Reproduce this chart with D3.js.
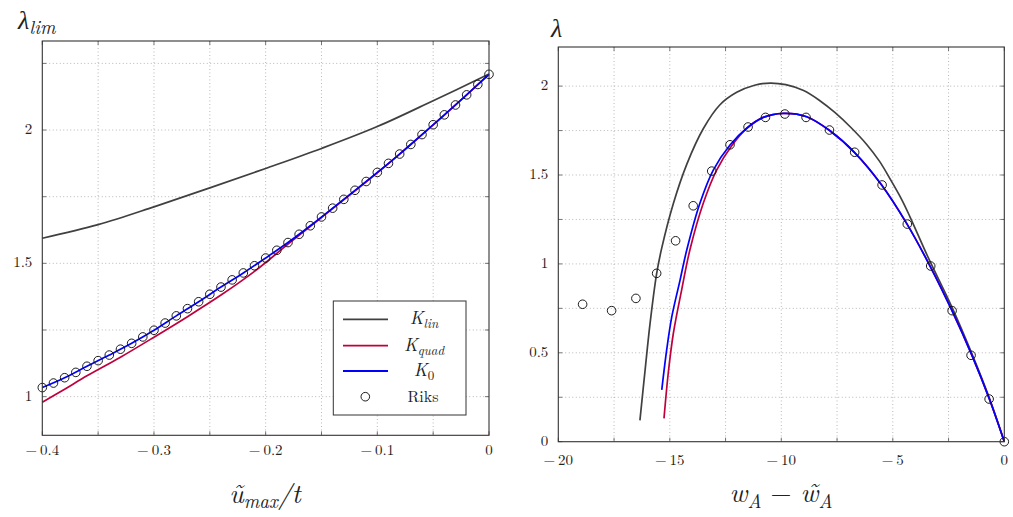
<!DOCTYPE html>
<html><head><meta charset="utf-8">
<script src="https://cdn.jsdelivr.net/npm/d3@7"></script>
<style>
body{margin:0;background:#fff;}
svg{display:block;}
text{font-family:"Latin Modern Roman","Liberation Serif","DejaVu Serif",serif;fill:#222;}
</style></head><body>
<svg id="c" width="1013" height="517"></svg>
<script>
// ---------- Left panel data ----------
const leftKlinX = [-0.4,-0.35,-0.3,-0.25,-0.2,-0.15,-0.1,-0.05,0];
const leftKlinY = [1.594,1.645,1.712,1.783,1.856,1.931,2.013,2.11,2.21];
const leftKquadX = [-0.4,-0.38,-0.36,-0.33,-0.3,-0.27,-0.24,-0.21,-0.18,-0.15,-0.1,-0.05,0];
const leftKquadY = [0.979,1.028,1.078,1.148,1.223,1.300,1.381,1.470,1.572,1.672,1.839,2.019,2.209];
const leftK0X = [-0.4,-0.38,-0.36,-0.34,-0.32,-0.3,-0.28,-0.26,-0.24,-0.22,-0.2,-0.18,-0.16,-0.14,-0.12,-0.1,-0.08,-0.06,-0.04,-0.02,0];
const leftK0Y = [1.034,1.071,1.114,1.156,1.200,1.249,1.303,1.356,1.411,1.464,1.520,1.578,1.641,1.707,1.774,1.841,1.910,1.983,2.057,2.132,2.209];
const leftRiksX = [-0.4,-0.39,-0.38,-0.37,-0.36,-0.35,-0.34,-0.33,-0.32,-0.31,-0.3,-0.29,-0.28,-0.27,-0.26,-0.25,-0.24,-0.23,-0.22,-0.21,-0.2,-0.19,-0.18,-0.17,-0.16,-0.15,-0.14,-0.13,-0.12,-0.11,-0.1,-0.09,-0.08,-0.07,-0.06,-0.05,-0.04,-0.03,-0.02,-0.01,0];
const leftRiksY = [1.034,1.051,1.071,1.091,1.114,1.135,1.156,1.178,1.200,1.224,1.249,1.276,1.303,1.330,1.356,1.384,1.411,1.438,1.464,1.491,1.520,1.549,1.578,1.609,1.641,1.674,1.707,1.740,1.774,1.807,1.841,1.875,1.910,1.946,1.983,2.020,2.057,2.094,2.132,2.171,2.209];
const leftXTicks = [-0.4,-0.3,-0.2,-0.1,0];
const leftXTickLabels = ["−\u20090.4","−\u20090.3","−\u20090.2","−\u20090.1","0"];
const leftXGrid = [-0.35,-0.3,-0.25,-0.2,-0.15,-0.1,-0.05];
const leftYTicks = [1,1.5,2];
const leftYTickLabels = ["1","1.5","2"];
const leftYGrid = [1,1.25,1.5,1.75,2,2.25];

// ---------- Right panel data ----------
const rightKlinX = [-16.34,-16.11,-15.89,-15.59,-15.36,-14.84,-14.24,-13.5,-12.75,-12.0,-11.2,-10.5,-9.8,-9.0,-8.27,-7.6,-6.9,-6.17,-5.6,-5.13,-4.6,-4.23,-3.41,-2.36,-1.46,-0.67,0];
const rightKlinY = [0.12,0.40,0.66,0.945,1.09,1.34,1.56,1.76,1.895,1.965,2.005,2.017,2.008,1.975,1.918,1.852,1.77,1.672,1.578,1.48,1.362,1.265,1.035,0.76,0.497,0.245,0];
const rightKquadX = [-15.26,-15.07,-14.84,-14.47,-14.1,-13.5,-12.9,-12.2,-11.55,-10.81,-9.91,-8.86,-7.82,-6.7,-5.5,-4.38,-3.33,-2.36,-1.46,-0.67,0];
const rightKquadY = [0.131,0.385,0.61,0.853,1.078,1.341,1.528,1.669,1.763,1.824,1.847,1.828,1.749,1.625,1.444,1.228,0.988,0.741,0.488,0.24,0];
const rightK0X = [-15.36,-15.14,-14.91,-14.54,-14.24,-13.65,-13.05,-12.3,-11.55,-10.81,-9.91,-8.86,-7.82,-6.7,-5.5,-4.38,-3.33,-2.36,-1.46,-0.67,0];
const rightK0Y = [0.291,0.516,0.703,0.909,1.078,1.341,1.528,1.669,1.763,1.824,1.847,1.828,1.749,1.625,1.444,1.228,0.988,0.741,0.488,0.24,0];
const rightRiksX = [-18.91,-17.61,-16.52,-15.59,-14.74,-13.95,-13.12,-12.3,-11.49,-10.71,-9.84,-8.89,-7.84,-6.71,-5.48,-4.35,-3.3,-2.34,-1.49,-0.68,0];
const rightRiksY = [0.773,0.737,0.806,0.947,1.13,1.327,1.522,1.67,1.77,1.824,1.843,1.824,1.753,1.628,1.444,1.224,0.988,0.737,0.486,0.24,0];
const rightXTicks = [-20,-15,-10,-5,0];
const rightXTickLabels = ["−\u200920","−\u200915","−\u200910","−\u20095","0"];
const rightXGrid = [-17.5,-15,-12.5,-10,-7.5,-5,-2.5];
const rightYTicks = [0,0.5,1,1.5,2];
const rightYTickLabels = ["0","0.5","1","1.5","2"];
const rightYGrid = [0.25,0.5,0.75,1,1.25,1.5,1.75,2];

const seriesNames = ["K_lin","K_quad","K_0","Riks"];
const colors = {lin:"#404040", quad:"#c0003c", k0:"#0000ff"};

const svg = d3.select("#c");

function panel(o){
  const x = d3.scaleLinear().domain(o.xDomain).range([o.x0,o.x1]);
  const y = d3.scaleLinear().domain(o.yDomain).range([o.y1,o.y0]);
  const g = svg.append("g");
  g.selectAll(".gx").data(o.xGrid).join("line")
    .attr("x1",d=>x(d)).attr("x2",d=>x(d)).attr("y1",o.y0).attr("y2",o.y1)
    .attr("stroke","#9a9a9a").attr("stroke-width",0.8).attr("stroke-dasharray","0.9 2.6");
  g.selectAll(".gy").data(o.yGrid).join("line")
    .attr("y1",d=>y(d)).attr("y2",d=>y(d)).attr("x1",o.x0).attr("x2",o.x1)
    .attr("stroke","#9a9a9a").attr("stroke-width",0.8).attr("stroke-dasharray","0.9 2.6");
  const tl = 4;
  const xt = Array.from(new Set(o.xGrid.concat(o.xTicks)));
  const yt = Array.from(new Set(o.yGrid.concat(o.yTicks)));
  xt.forEach(v=>{
    g.append("line").attr("x1",x(v)).attr("x2",x(v)).attr("y1",o.y1).attr("y2",o.y1-tl).attr("stroke","#555").attr("stroke-width",0.8);
    g.append("line").attr("x1",x(v)).attr("x2",x(v)).attr("y1",o.y0).attr("y2",o.y0+tl).attr("stroke","#555").attr("stroke-width",0.8);
  });
  yt.forEach(v=>{
    g.append("line").attr("y1",y(v)).attr("y2",y(v)).attr("x1",o.x0).attr("x2",o.x0+tl).attr("stroke","#555").attr("stroke-width",0.8);
    g.append("line").attr("y1",y(v)).attr("y2",y(v)).attr("x1",o.x1).attr("x2",o.x1-tl).attr("stroke","#555").attr("stroke-width",0.8);
  });
  const line = d3.line().x(d=>x(d[0])).y(d=>y(d[1])).curve(d3.curveCatmullRom.alpha(0.5));
  const lg = g.append("g");
  o.lines.forEach(s=>{
    const pts = s.xs.map((v,i)=>[v,s.ys[i]]);
    lg.append("path").attr("d",line(pts)).attr("fill","none")
      .attr("stroke",s.color).attr("stroke-width",1.7).attr("stroke-linejoin","round");
  });
  const pts = o.riksX.map((v,i)=>[v,o.riksY[i]]);
  g.selectAll(".rk").data(pts).join("circle")
    .attr("cx",d=>x(d[0])).attr("cy",d=>y(d[1])).attr("r",4.3)
    .attr("fill","none").attr("stroke","#111").attr("stroke-width",0.95);
  g.append("rect").attr("x",o.x0).attr("y",o.y0).attr("width",o.x1-o.x0).attr("height",o.y1-o.y0)
    .attr("fill","none").attr("stroke","#333").attr("stroke-width",1.1);
  g.selectAll(".xl").data(o.xTicks).join("text")
    .attr("x",d=>x(d)).attr("y",o.y1+o.xLabOff).attr("text-anchor","middle")
    .attr("font-size",15).text((d,i)=>o.xTickLabels[i]);
  g.selectAll(".yl").data(o.yTicks).join("text")
    .attr("x",o.x0-o.yLabOff).attr("y",d=>y(d)+4).attr("text-anchor","end")
    .attr("font-size",15).text((d,i)=>o.yTickLabels[i]);
  return {x,y,g};
}

panel({id:"L", x0:42.3, x1:489, y0:41, y1:435.3, xDomain:[-0.4,0], yDomain:[0.855,2.334],
  xGrid:leftXGrid, yGrid:leftYGrid, xTicks:leftXTicks, xTickLabels:leftXTickLabels,
  yTicks:leftYTicks, yTickLabels:leftYTickLabels, xLabOff:20, yLabOff:10,
  lines:[{xs:leftKlinX,ys:leftKlinY,color:colors.lin},{xs:leftKquadX,ys:leftKquadY,color:colors.quad},{xs:leftK0X,ys:leftK0Y,color:colors.k0}],
  riksX:leftRiksX, riksY:leftRiksY});

panel({id:"R", x0:558.3, x1:1004.3, y0:47, y1:441.7, xDomain:[-20,0], yDomain:[0,2.22],
  xGrid:rightXGrid, yGrid:rightYGrid, xTicks:rightXTicks, xTickLabels:rightXTickLabels,
  yTicks:rightYTicks, yTickLabels:rightYTickLabels, xLabOff:23, yLabOff:10,
  lines:[{xs:rightKlinX,ys:rightKlinY,color:colors.lin},{xs:rightKquadX,ys:rightKquadY,color:colors.quad},{xs:rightK0X,ys:rightK0Y,color:colors.k0}],
  riksX:rightRiksX, riksY:rightRiksY});

// Legend
const leg = svg.append("g");
leg.append("rect").attr("x",333.3).attr("y",301).attr("width",132.7).attr("height",114)
  .attr("fill","#fff").attr("stroke","#333").attr("stroke-width",1);
const legY = [319.3,345.7,371,396.7];
const legC = [colors.lin,colors.quad,colors.k0];
const legSub = ["lin","quad","0"];
legC.forEach((c,i)=>{
  leg.append("line").attr("x1",343).attr("x2",388).attr("y1",legY[i]).attr("y2",legY[i])
    .attr("stroke",c).attr("stroke-width",1.8);
  const t = leg.append("text").attr("x",424).attr("y",legY[i]+5).attr("text-anchor","middle").attr("font-size",18);
  t.append("tspan").attr("font-style","italic").text("K");
  t.append("tspan").attr("font-style",legSub[i]==="0"?"normal":"italic").attr("font-size",13).attr("dy",4).text(legSub[i]);
});
leg.append("circle").attr("cx",365.3).attr("cy",legY[3]).attr("r",4.3).attr("fill","none").attr("stroke","#111").attr("stroke-width",0.95);
leg.append("text").attr("x",423).attr("y",legY[3]+5).attr("text-anchor","middle").attr("font-size",16).text(seriesNames[3]);

// Axis titles
const t1 = svg.append("text").attr("x",18).attr("y",29).attr("font-size",26);
t1.append("tspan").attr("font-style","italic").text("λ");
t1.append("tspan").attr("font-style","italic").attr("font-size",19).attr("dy",5).text("lim");

svg.append("text").attr("x",551).attr("y",37).attr("font-size",26).attr("font-style","italic").text("λ");

const t2 = svg.append("text").attr("x",265).attr("y",503).attr("text-anchor","middle").attr("font-size",27);
t2.append("tspan").attr("font-style","italic").text("u\u0303");
t2.append("tspan").attr("font-style","italic").attr("font-size",19).attr("dy",5).text("max");
t2.append("tspan").attr("font-style","italic").attr("dy",-5).text("/t");

const t3 = svg.append("text").attr("x",781).attr("y",502).attr("text-anchor","middle").attr("font-size",27);
t3.append("tspan").attr("font-style","italic").text("w");
t3.append("tspan").attr("font-style","italic").attr("font-size",19).attr("dy",6).text("A");
t3.append("tspan").attr("dy",-6).text(" − ");
t3.append("tspan").attr("font-style","italic").text("w\u0303");
t3.append("tspan").attr("font-style","italic").attr("font-size",19).attr("dy",6).text("A");
</script>
</body></html>
